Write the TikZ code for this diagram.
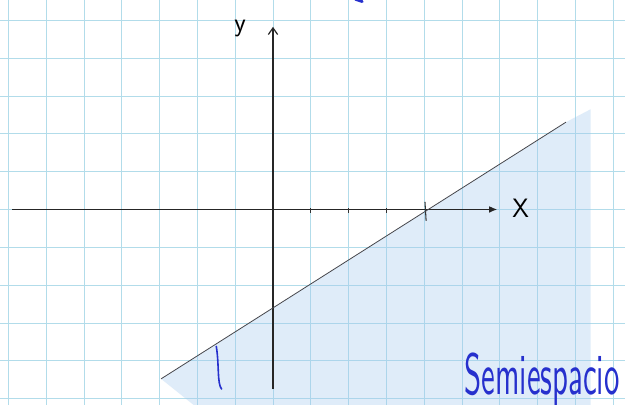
\documentclass[tikz,border=0pt]{standalone}
\usepackage{graphicx}
\usetikzlibrary{arrows.meta,positioning}
\definecolor{gridblue}{RGB}{178,220,234}
\definecolor{penblue}{RGB}{38,48,205}
\definecolor{pencilblue}{RGB}{160,200,238}
\definecolor{inkgray}{RGB}{70,70,75}
\tikzset{
  gridline/.style={gridblue,line width=0.55pt},
  axisline/.style={line width=0.9pt,black!85},
  boundary/.style={inkgray,line width=0.6pt},
  tickmark/.style={black!80,line width=0.6pt},
  handlabel/.style={inner sep=1pt,font=\sffamily\fontsize{20}{22}\selectfont}
}
\begin{document}
\begin{tikzpicture}[x=1cm,y=1cm]
\useasboundingbox (-7.22,-5.17) rectangle (9.31,5.54);
\fill[white] (-7.22,-5.17) rectangle (9.31,5.54);
\draw[gridline] (-7.22,-5.17) grid (9.31,5.54);
% points of the picture
\coordinate (xl) at (-6.9,0);
\coordinate (xr) at (5.93,0);
\coordinate (yb) at (0,-4.75);
\coordinate (yt) at (0,4.83);
\coordinate (p) at (-2.96,-4.48);
\coordinate (q) at (7.75,2.31);
% shaded half plane
\fill[pencilblue,opacity=0.33] (p) -- (q) -- (8.4,2.65) -- (8.4,-5.17) -- (-2.1,-5.17) -- cycle;
% axes
\draw[axisline,line width=0.8pt,-{Latex[length=6pt,width=5pt]}] (xl) -- (xr);
\draw[axisline,-{Straight Barb[length=5pt,width=7pt]}] (yb) -- (yt);
\foreach \t in {1,2,3}
  \draw[tickmark] (\t,0.03) -- (\t,-0.1);
\draw[tickmark,line width=0.8pt] (4.02,0.2) -- (4.05,-0.3);
% boundary line
\draw[boundary] (p) -- (q);
% labels
\node[handlabel] (ylab) at (-0.87,4.78) {y};
\node[handlabel] (xlab) at (6.55,0.02) {X};
\node[text=penblue,inner sep=0pt] (semi) at (7.12,-4.5)
  {\resizebox{4.1cm}{1.1cm}{\sffamily Semiespacio}};
\draw[penblue,line width=1.2pt,line cap=round] (-1.5,-3.62) .. controls (-1.42,-4.1) and (-1.48,-4.6) .. (-1.36,-4.75);
\draw[penblue,line width=2.2pt,line cap=round] (2.18,5.56) -- (2.36,5.5);
\end{tikzpicture}
\end{document}
